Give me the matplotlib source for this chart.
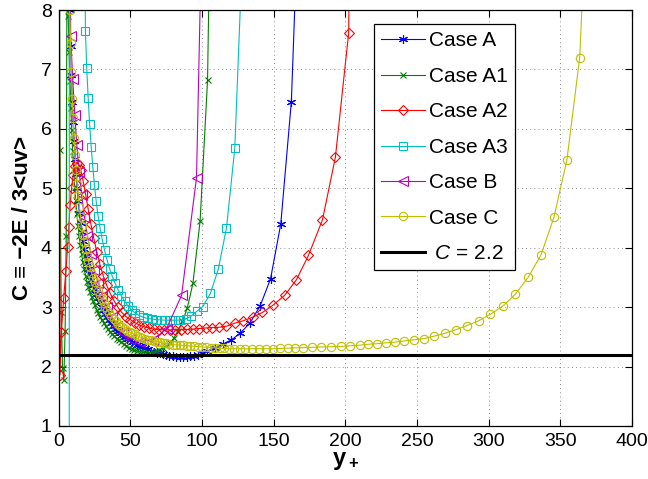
import matplotlib
matplotlib.use("Agg")
import matplotlib.pyplot as plt
import numpy as np

plt.rcParams['font.family'] = ['Liberation Sans', 'DejaVu Sans']
plt.rcParams['mathtext.fontset'] = 'custom'
plt.rcParams['mathtext.rm'] = 'Liberation Sans'
plt.rcParams['mathtext.it'] = 'Liberation Sans:italic'
plt.rcParams['mathtext.bf'] = 'Liberation Sans:bold'

# ---- Case A ----
yplus_A = [7.0, 7.6, 8.2, 8.8, 9.4, 10.0, 10.7, 11.4, 12.1, 12.8, 13.6, 14.4, 15.2,
           16.0, 16.9, 17.8, 18.7, 19.7, 20.7, 21.7, 22.8, 23.9, 25.0, 26.2, 27.4,
           28.6, 29.9, 31.2, 32.5, 33.9, 35.3, 36.7, 38.2, 39.7, 41.2, 42.8, 44.4,
           46.0, 47.7, 49.4, 51.1, 52.9, 54.7, 56.5, 58.4, 60.3, 62.3, 64.3, 66.3,
           68.4, 70.5, 72.7, 74.9, 77.2, 79.5, 81.9, 84.3, 86.8, 89.3, 91.9, 94.6,
           97.3, 100.1, 103.6, 108.9, 114.7, 120.5, 126.5, 133.3, 140.5, 147.8,
           154.9, 162.3, 169.7]
C_A = [11.0, 8.0, 7.4, 6.9, 6.45, 6.12, 5.80, 5.50, 5.24, 5.01, 4.79, 4.59, 4.42,
       4.27, 4.12, 3.98, 3.86, 3.74, 3.64, 3.55, 3.46, 3.37, 3.30, 3.22, 3.15,
       3.08, 3.01, 2.95, 2.89, 2.83, 2.78, 2.73, 2.68, 2.64, 2.60, 2.56, 2.53,
       2.50, 2.47, 2.44, 2.41, 2.39, 2.37, 2.35, 2.33, 2.31, 2.29, 2.27, 2.25,
       2.235, 2.22, 2.205, 2.19, 2.18, 2.17, 2.165, 2.16, 2.16, 2.165, 2.17, 2.18,
       2.20, 2.22, 2.26, 2.31, 2.38, 2.45, 2.56, 2.73, 3.02, 3.48,
       4.40, 6.46, 11.4]

# ---- Case A1 ----
yplus_A1 = [0.0, 0.8, 1.7, 2.6, 3.5, 4.4, 5.2, 5.9, 6.6, 7.2, 7.8, 8.4, 9.0, 9.7,
            10.4, 11.1, 11.8, 12.6, 13.4, 14.2, 15.0, 15.9, 16.8, 17.7, 18.7, 19.7,
            20.7, 21.8, 22.9, 24.0, 25.2, 26.4, 27.6, 28.9, 30.2, 31.5, 32.9, 34.3,
            35.8, 37.3, 38.8, 40.4, 42.0, 43.7, 45.4, 47.2, 49.0, 50.9, 52.8, 54.8,
            56.8, 58.9, 61.0, 63.2, 65.4, 67.7, 70.0, 72.4, 74.9, 77.5, 80.3, 83.2,
            86.3, 89.6, 93.6, 98.6, 103.8, 108.5]
C_A1 = [14.0, 5.64, 2.92, 1.97, 1.77, 2.6, 4.2, 10.5, 7.9, 7.3, 6.8, 6.35, 5.98, 5.62,
        5.30, 5.03, 4.80, 4.57, 4.37, 4.19, 4.04, 3.89, 3.76, 3.64, 3.53, 3.43,
        3.34, 3.25, 3.17, 3.10, 3.03, 2.96, 2.90, 2.84, 2.78, 2.73, 2.68, 2.63,
        2.59, 2.55, 2.51, 2.47, 2.44, 2.41, 2.38, 2.35, 2.32, 2.30, 2.28, 2.265,
        2.25, 2.24, 2.235, 2.235, 2.24, 2.255, 2.28, 2.31, 2.35, 2.40, 2.48, 2.60,
        2.76, 2.98, 3.40, 4.45, 6.82, 14.0]

# ---- Case A2 ----
yplus_A2 = [0.0, 0.8, 1.8, 3.4, 4.9, 6.2, 7.0, 7.9, 8.9, 10.0, 11.2, 12.5, 13.9, 15.4,
            17.0, 18.7, 20.5, 22.4, 24.4, 26.5, 28.7, 31.0, 33.4, 35.9, 38.5, 41.2,
            44.0, 46.9, 49.9, 53.0, 56.2, 59.5, 62.9, 66.4, 70.0, 73.7, 77.5, 81.4,
            85.4, 89.5, 93.7, 98.0, 102.4, 106.9, 111.5, 117.0, 122.8, 128.6, 135.2,
            142.1, 149.3, 157.7, 165.8, 174.2, 184.0, 193.0, 202.3, 211.5]
C_A2 = [15.0, 1.86, 2.59, 3.15, 3.6, 4.02, 4.35, 4.72, 5.0, 5.22, 5.37, 5.43, 5.40, 5.30,
        5.12, 4.90, 4.65, 4.40, 4.16, 3.93, 3.72, 3.53, 3.37, 3.23, 3.11, 3.00,
        2.91, 2.84, 2.79, 2.74, 2.70, 2.67, 2.65, 2.63, 2.62, 2.62, 2.615, 2.62,
        2.62, 2.625, 2.63, 2.64, 2.65, 2.655, 2.66, 2.68, 2.73, 2.77, 2.83,
        2.91, 3.03, 3.20, 3.46, 3.87, 4.47, 5.52, 7.62, 35.0]

# ---- Case A3 ----
yplus_A3 = [7.25, 7.35, 18.6, 19.5, 20.5, 21.5, 22.6, 23.7, 24.9, 26.1, 27.4, 28.8,
            30.3, 31.9, 33.6, 35.4, 37.3, 39.3, 41.4, 43.6, 45.9, 48.3, 50.8, 53.4,
            56.1, 58.9, 61.8, 64.8, 67.9, 71.1, 74.4, 77.8, 81.3, 84.9, 88.6, 92.4,
            96.3, 100.5, 105.8, 111.3, 117.0, 122.8, 128.7]
C_A3 = [-40.0, 40.0, 7.64, 7.02, 6.52, 6.08, 5.70, 5.36, 5.05, 4.78, 4.54, 4.33,
        4.14, 3.96, 3.80, 3.65, 3.52, 3.40, 3.29, 3.19, 3.10, 3.02, 2.95, 2.90,
        2.86, 2.83, 2.81, 2.80, 2.79, 2.785, 2.78, 2.78, 2.78, 2.785, 2.80, 2.85,
        2.93, 3.01, 3.23, 3.64, 4.33, 5.67, 9.3]

# ---- Case B ----
yplus_B = [7.0, 8.3, 9.7, 11.2, 12.6, 14.2, 16.0, 17.9, 20.0, 22.3, 24.8, 27.5, 30.4,
           33.5, 36.9, 40.6, 44.7, 50.0, 56.6, 65.9, 75.2, 85.7, 96.1, 106.5]
C_B = [11.0, 7.56, 6.84, 6.23, 5.72, 5.28, 4.88, 4.52, 4.20, 3.90, 3.63, 3.40, 3.19,
       3.00, 2.84, 2.69, 2.57, 2.47, 2.42, 2.45, 2.64, 3.20, 5.18, 17.0]

# ---- Case C ----
yplus_C = [7.0, 7.6, 8.2, 8.8, 9.4, 10.0, 10.7, 11.4, 12.1, 12.8, 13.6, 14.4, 15.2,
           16.0, 16.9, 17.8, 18.7, 19.7, 20.7, 21.7, 22.8, 23.9, 25.0, 26.2, 27.4,
           28.6, 29.9, 31.2, 32.5, 33.9, 35.3, 36.7, 38.2, 39.7, 41.2, 42.8, 44.4,
           46.0, 47.7, 49.4, 51.1, 52.9, 54.7, 56.5, 58.4, 60.3, 62.3, 64.3, 66.3,
           68.4, 70.5, 72.7, 74.9, 77.2, 79.5, 81.9, 84.3, 86.8, 89.3, 91.9, 94.6,
           97.3, 100.1, 103.0, 106.0, 109.1, 112.3, 115.6, 119.0, 122.6, 126.3,
           130.2, 134.7, 139.4, 144.3, 149.4, 154.6, 159.9, 165.1, 170.4, 177.0,
           183.3, 190.2, 197.2, 203.1, 210.0, 215.8, 222.1, 228.1, 234.4, 240.7,
           247.7, 254.7, 261.7, 269.4, 277.0, 284.9, 293.0, 301.2, 310.0, 318.7,
           327.5, 336.5, 345.5, 354.6, 363.5, 372.5]
C_C = [11.0, 8.0, 7.45, 6.95, 6.50, 6.18, 5.85, 5.56, 5.30, 5.08, 4.87, 4.68, 4.52,
       4.37, 4.22, 4.09, 3.97, 3.86, 3.76, 3.67, 3.58, 3.49, 3.42, 3.34, 3.27,
       3.20, 3.13, 3.07, 3.01, 2.95, 2.90, 2.85, 2.80, 2.76, 2.72, 2.69, 2.66,
       2.63, 2.60, 2.58, 2.56, 2.54, 2.52, 2.50, 2.485, 2.47, 2.455, 2.44, 2.43,
       2.42, 2.41, 2.40, 2.39, 2.38, 2.37, 2.365, 2.36, 2.355, 2.35, 2.345, 2.34,
       2.335, 2.33, 2.325, 2.32, 2.315, 2.31, 2.305, 2.30, 2.30, 2.30,
       2.30, 2.30, 2.30, 2.30, 2.30, 2.305, 2.31, 2.315, 2.318, 2.324,
       2.33, 2.334, 2.34, 2.35, 2.36, 2.375, 2.385, 2.40, 2.41, 2.43,
       2.45, 2.47, 2.51, 2.56, 2.62, 2.69, 2.77, 2.88, 3.02, 3.22,
       3.50, 3.88, 4.51, 5.48, 7.20, 12.0]

C_ref = 2.2

series = [
    ("Case A",  yplus_A,  C_A,  (0, 0, 1),       (6, 2, 0), 6.5),
    ("Case A1", yplus_A1, C_A1, (0, 0.5, 0),     'x',       5.0),
    ("Case A2", yplus_A2, C_A2, (1, 0, 0),       'D',       5.5),
    ("Case A3", yplus_A3, C_A3, (0, 0.75, 0.75), 's',       5.5),
    ("Case B",  yplus_B,  C_B,  (0.75, 0, 0.75), '<',       6.5),
    ("Case C",  yplus_C,  C_C,  (0.75, 0.75, 0), 'o',       6.0),
]

fig = plt.figure(figsize=(6.48, 4.79), dpi=100)
ax = fig.add_axes([58.8 / 648, 53 / 479, 573.2 / 648, 416 / 479])

for label, xs, ys, col, mk, ms in series:
    ax.plot(xs, ys, color=col, lw=0.8, marker=mk, ms=ms, mfc='none',
            mec=col, mew=0.8, label=label)

ax.axhline(C_ref, color='k', lw=2.2, label=r' $\mathit{C}$ = 2.2')

ax.set_xlim(0, 400)
ax.set_ylim(1, 8)
ax.set_xticks(np.arange(0, 401, 50))
ax.set_yticks(np.arange(1, 9, 1))
ax.grid(True, which='major', linestyle=(0, (1, 4)), color='k', lw=0.6, alpha=0.6)
ax.tick_params(direction='in', top=True, right=True, length=5, width=0.8,
               labelsize=14, pad=5)
for sp in ax.spines.values():
    sp.set_linewidth(0.9)

ax.set_xlabel(r'$\mathbf{y_+}$', fontsize=17, labelpad=0)
ax.set_ylabel('C \u2261 \u22122E / 3<uv>', fontsize=16, fontweight='bold', labelpad=6)

leg = ax.legend(loc='upper left', bbox_to_anchor=(0.55, 0.966), fontsize=15,
                handlelength=2.1, handletextpad=0.2, labelspacing=0.79,
                borderpad=0.35, borderaxespad=0.0, fancybox=False, framealpha=1,
                edgecolor='k')
leg.get_frame().set_linewidth(0.9)

fig.savefig('out.png', dpi=100)
